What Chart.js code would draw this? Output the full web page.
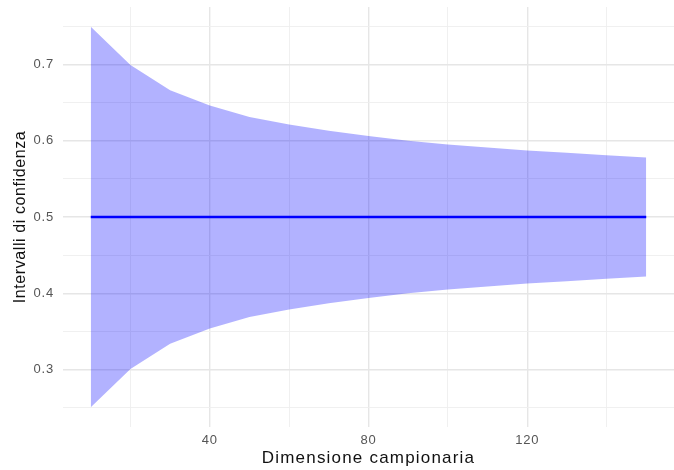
<!DOCTYPE html>
<html><head><meta charset="utf-8">
<script src="https://cdn.jsdelivr.net/npm/chart.js@4/dist/chart.umd.min.js"></script>
<style>html,body{margin:0;padding:0;background:#fff}#wrap{width:674px;height:470px}</style>
</head><body><div id="wrap"><canvas id="c" width="674" height="470"></canvas></div>
<script>
const sampleSizes = [10,20,30,40,50,60,70,80,90,100,110,120,130,140,150];
const upperBound = [0.749,0.699,0.666,0.646,0.631,0.621,0.613,0.606,0.600,0.595,0.591,0.587,0.584,0.581,0.578];
const lowerBound = [0.251,0.301,0.334,0.354,0.369,0.379,0.387,0.394,0.400,0.405,0.409,0.413,0.416,0.419,0.422];
const meanValue = [0.5,0.5,0.5,0.5,0.5,0.5,0.5,0.5,0.5,0.5,0.5,0.5,0.5,0.5,0.5];
const xMajorTicks = [40,80,120];
const xMinorTicks = [20,60,100,140];
const yMajorTicks = [0.3,0.4,0.5,0.6,0.7];
const yMinorTicks = [0.25,0.35,0.45,0.55,0.65,0.75];
const xTitle = 'Dimensione campionaria';
const yTitle = 'Intervalli di confidenza';

const pts = arr => sampleSizes.map((n,i)=>({x:n,y:arr[i]}));
const isMajor = (list,v) => list.some(t => Math.abs(t - v) < 1e-6);
const FONT = "'Liberation Sans', Arial, sans-serif";

function spaced(s, titleSpacing, labelSpacing) {
  if (s._spaced) return;
  s._spaced = true;
  const oT = s.drawTitle.bind(s), oL = s.drawLabels.bind(s);
  s.drawTitle = function(a){ const ctx = this.ctx; ctx.save(); ctx.letterSpacing = titleSpacing; oT(a); ctx.restore(); };
  s.drawLabels = function(a){ const ctx = this.ctx; ctx.save(); ctx.letterSpacing = labelSpacing; oL(a); ctx.restore(); };
}

new Chart(document.getElementById('c'), {
  type: 'line',
  data: {
    datasets: [
      {data: pts(lowerBound), borderWidth: 0, pointRadius: 0, fill: false, backgroundColor: 'rgba(0,0,255,0.3)', order: 3},
      {data: pts(upperBound), borderWidth: 0, pointRadius: 0, fill: '-1', backgroundColor: 'rgba(0,0,255,0.3)', order: 2},
      {data: pts(meanValue), borderColor: '#0000ff', borderWidth: 2.4, pointRadius: 0, fill: false, order: 1}
    ]
  },
  options: {
    responsive: false,
    animation: false,
    devicePixelRatio: 1,
    layout: {padding: {top: 7, right: 0, left: 0, bottom: 0}},
    plugins: {legend: {display: false}, tooltip: {enabled: false}},
    scales: {
      x: {
        type: 'linear', min: 3, max: 157,
        afterBuildTicks: s => { s.ticks = [...xMinorTicks, ...xMajorTicks].sort((a,b)=>a-b).map(v=>({value:v})); },
        afterFit: s => { s.height = 43; s.paddingLeft = 0; s.paddingRight = 0; spaced(s, '1.2px', '0.8px'); },
        border: {display: false},
        grid: {
          drawTicks: false,
          color: c => isMajor(xMajorTicks, c.tick.value) ? '#e6e6e6' : '#eeeeee',
          lineWidth: c => isMajor(xMajorTicks, c.tick.value) ? 1.4 : 0.9
        },
        ticks: {
          autoSkip: false, maxRotation: 0, padding: 6,
          color: '#555', font: {family: FONT, size: 13},
          callback: v => isMajor(xMajorTicks, v) ? String(v) : ''
        },
        title: {display: true, text: xTitle, color: '#111', font: {family: FONT, size: 17}, padding: {top: 0, bottom: 1}}
      },
      y: {
        type: 'linear', min: 0.225, max: 0.775,
        afterBuildTicks: s => { s.ticks = [...yMinorTicks, ...yMajorTicks].sort((a,b)=>a-b).map(v=>({value:v})); },
        afterFit: s => { s.width = 63; s.paddingTop = 0; s.paddingBottom = 0; spaced(s, '0.6px', '0.8px'); },
        border: {display: false},
        grid: {
          drawTicks: false,
          color: c => isMajor(yMajorTicks, c.tick.value) ? '#e6e6e6' : '#eeeeee',
          lineWidth: c => isMajor(yMajorTicks, c.tick.value) ? 1.4 : 0.9
        },
        ticks: {
          autoSkip: false, padding: 9,
          color: '#555', font: {family: FONT, size: 13},
          callback: v => isMajor(yMajorTicks, v) ? v.toFixed(1) : ''
        },
        title: {display: true, text: yTitle, color: '#111', font: {family: FONT, size: 16}, padding: {top: 11, bottom: 0}}
      }
    }
  }
});
</script>
</body></html>
